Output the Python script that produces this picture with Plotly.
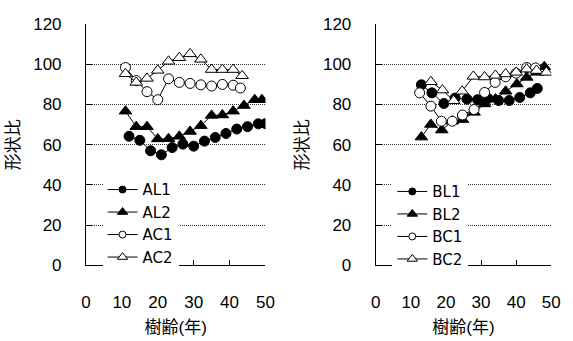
import plotly.graph_objects as go

# Left panel data
al1_x = [12, 15, 18, 21, 24, 27, 30, 33, 36, 39, 42, 45, 48, 50]
al1_y = [64.2, 62.2, 57.0, 55.0, 58.6, 60.3, 59.3, 61.8, 63.6, 65.6, 67.8, 69.0, 70.4, 70.5]
al2_x = [11, 14, 17, 20, 23, 26, 29, 32, 35, 38, 41, 44, 47, 49]
al2_y = [76.7, 69.0, 69.0, 62.9, 63.0, 64.2, 66.6, 69.5, 74.6, 74.8, 76.7, 79.5, 82.4, 82.4]
ac1_x = [11, 14, 17, 20, 23, 26, 29, 32, 35, 38, 41, 43]
ac1_y = [98.4, 91.9, 86.4, 82.4, 92.8, 91.0, 90.5, 89.8, 89.2, 90.0, 89.6, 88.2]
ac2_x = [11, 14, 17, 20, 23, 26, 29, 32, 35, 38, 41, 43.5]
ac2_y = [95.3, 91.0, 93.0, 97.0, 101.5, 103.3, 105.2, 102.5, 97.4, 97.4, 97.4, 94.3]

# Right panel data
bl1_x = [13, 16, 19.4, 22.6, 26, 29, 32, 35, 38, 41, 44, 46]
bl1_y = [89.8, 85.8, 80.5, 83.2, 82.7, 82.4, 83.0, 82.0, 82.0, 83.5, 85.8, 88.0]
bl2_x = [13, 15.7, 18.8, 21.8, 24.7, 28, 31, 34.1, 37, 40.2, 43, 46, 48]
bl2_y = [63.8, 70.1, 67.3, 71.7, 72.5, 76.1, 80.3, 82.7, 86.6, 90.2, 93.5, 96.0, 98.8]
bc1_x = [12.5, 15.7, 18.7, 21.8, 24.7, 28, 31, 34, 37, 40, 43, 45.5]
bc1_y = [85.8, 79.2, 71.7, 71.7, 74.8, 77.5, 86.0, 91.0, 93.8, 95.6, 98.4, 98.2]
bc2_x = [15.7, 19, 22.2, 24.6, 27.8, 31, 34.1, 37, 40, 43, 45.8, 48.6]
bc2_y = [91.3, 87.2, 81.9, 86.6, 94.0, 93.7, 94.5, 95.2, 96.0, 97.6, 96.9, 96.0]

x_ticks = [0, 10, 20, 30, 40, 50]
y_ticks = [0, 20, 40, 60, 80, 100, 120]
x_title = "樹齢(年)"
y_title = "形状比"

FONT = "Liberation Sans, Arial, Noto Sans CJK JP, sans-serif"
LFONT = "DejaVu Sans, Liberation Sans, sans-serif"

fig = go.Figure()

def add(x, y, name, symbol, filled, xa, ya, legend):
    big = 10 if symbol == "circle" else 11
    small = 7 if symbol == "circle" else 9
    fill = "black" if filled else "white"
    fig.add_trace(go.Scatter(
        x=x, y=y, name=name, mode="lines+markers", showlegend=False,
        line=dict(color="black", width=1),
        marker=dict(symbol=symbol, size=big, color=fill,
                    line=dict(color="black", width=1)),
        xaxis=xa, yaxis=ya))
    # legend entry (smaller marker, as in the reference legend)
    fig.add_trace(go.Scatter(
        x=[None], y=[None], name=name, mode="lines+markers", showlegend=True,
        line=dict(color="black", width=1),
        marker=dict(symbol=symbol, size=small, color=fill,
                    line=dict(color="black", width=1)),
        xaxis=xa, yaxis=ya, legend=legend))

add(al1_x, al1_y, "AL1", "circle", True, "x", "y", "legend")
add(al2_x, al2_y, "AL2", "triangle-up", True, "x", "y", "legend")
add(ac1_x, ac1_y, "AC1", "circle", False, "x", "y", "legend")
add(ac2_x, ac2_y, "AC2", "triangle-up", False, "x", "y", "legend")
add(bl1_x, bl1_y, "BL1", "circle", True, "x2", "y2", "legend2")
add(bl2_x, bl2_y, "BL2", "triangle-up", True, "x2", "y2", "legend2")
add(bc1_x, bc1_y, "BC1", "circle", False, "x2", "y2", "legend2")
add(bc2_x, bc2_y, "BC2", "triangle-up", False, "x2", "y2", "legend2")

W, H = 573, 341

def xaxis(dom, anchor):
    return dict(domain=dom, anchor=anchor, range=[0, 50], tickvals=x_ticks,
                showline=True, linecolor="black", linewidth=1,
                ticks="inside", ticklen=5, tickcolor="black",
                showgrid=False, zeroline=False, ticklabelstandoff=21,
                tickfont=dict(size=17, color="black", family=FONT),
                title=dict(text=x_title, font=dict(size=17, color="black", family=FONT), standoff=10))

def yaxis(dom, anchor):
    return dict(domain=dom, anchor=anchor, range=[0, 120], tickvals=y_ticks,
                showline=True, linecolor="black", linewidth=1,
                ticks="inside", ticklen=6, tickcolor="black",
                showgrid=True, gridcolor="#333333", griddash="1px,1px", gridwidth=1,
                zeroline=False, ticklabelstandoff=20,
                tickfont=dict(size=17, color="black", family=FONT),
                title=dict(text=y_title, font=dict(size=17, color="black", family=FONT), standoff=9))

ydom = [1 - 271.5 / H, 1 - 16 / H]
fig.update_layout(
    width=W, height=H, margin=dict(l=0, r=0, t=0, b=0),
    paper_bgcolor="white", plot_bgcolor="white",
    font=dict(family=FONT, color="black"),
    xaxis=xaxis([83 / W, 267 / W], "y"),
    yaxis=yaxis(ydom, "x"),
    xaxis2=xaxis([380 / W, 560 / W], "y2"),
    yaxis2=yaxis(ydom, "x2"),
    legend=dict(x=100 / W, y=1 - 174 / H, xanchor="left", yanchor="top",
                bgcolor="white", font=dict(size=15, color="black", family=LFONT),
                tracegroupgap=0),
    legend2=dict(x=397 / W, y=1 - 176 / H, xanchor="left", yanchor="top",
                 bgcolor="white", font=dict(size=15, color="black", family=LFONT),
                 tracegroupgap=0),
)

fig.write_html("out.html")
